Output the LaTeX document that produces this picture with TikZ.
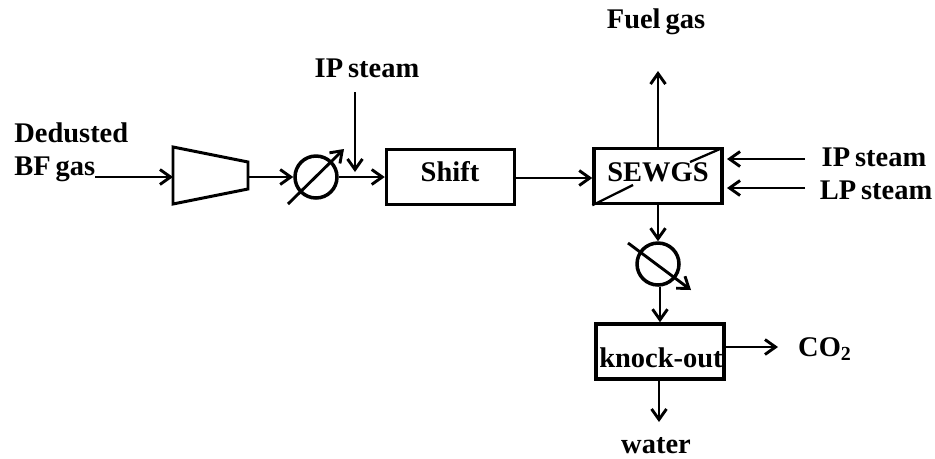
\documentclass[tikz,border=0pt]{standalone}
\usepackage{fontspec}
\setmainfont[WordSpace=0.7]{Liberation Serif}
\usepackage{tikz}
\usetikzlibrary{arrows.meta}

\tikzset{
    pipe/.style={line width=1.65pt},
    unitbox/.style={draw, line width=2pt, minimum width=2.56cm, minimum height=1.1cm},
    heater/.style={draw, circle, line width=2pt, minimum size=0.84cm, inner sep=0pt},
    streamlabel/.style={font=\fontsize{16.2}{18}\bfseries\selectfont, inner sep=0pt}
}

\begin{document}
\begin{tikzpicture}[x=0.02cm, y=-0.02cm, >={Straight Barb[length=6pt,width=8.5pt]}]

        \useasboundingbox (0,0) rectangle (935,458);

        % Draw units
        \node[unitbox] (shift) at (450.5,177) {};
        \node[unitbox] (sewgs) at (658,176) {};
        \node[unitbox] (knockout) at (660,351.5) {};
        \node[heater] (heaterA) at (316,177) {};
        \node[heater] (heaterB) at (658,264) {};

        % Draw compressor
        \draw[line width=1.7pt, line join=miter] (173,147) -- (248,162) -- (248,189) -- (173,204) -- cycle;
        \coordinate (compin) at (173,177);
        \coordinate (compout) at (248,177);

        % Draw unit labels
        \node[streamlabel] (shiftlabel) at (450,172) {Shift};
        \node[streamlabel] (sewgslabel) at (658,172) {SEWGS};
        \node[streamlabel] (knocklabel) at (661,358) {knock-out};

        % Draw stream labels
        \node[streamlabel, align=left, anchor=west] (feedlabel) at (14,152) {Dedusted\\[1pt]BF gas};
        \node[streamlabel] (ipAlabel) at (367,68) {IP steam};
        \node[streamlabel] (fuellabel) at (656,22) {Fuel gas};
        \node[streamlabel] (ipBlabel) at (874,157) {IP steam};
        \node[streamlabel] (lplabel) at (876,190) {LP steam};
        \node[streamlabel] (co2label) at (825,349) {CO$_\mathbf{2}$};
        \node[streamlabel] (waterlabel) at (656,446) {water};

        % Free ends of the streams
        \coordinate (feed) at (95,177);
        \coordinate (ipAstart) at (355,92);
        \coordinate (ipAend) at (355,172);
        \coordinate (fuelend) at (658,71);
        \coordinate (ipBstart) at (805,159);
        \coordinate (ipBend) at (727,159);
        \coordinate (lpstart) at (805,188);
        \coordinate (lpend) at (727,188);
        \coordinate (co2end) at (778,347);
        \coordinate (waterend) at (659,422);

        % Draw main line
        \draw[pipe, ->] (feed) -- (compin);
        \draw[pipe, ->] (compout) -- (heaterA);
        \draw[pipe, ->] (heaterA) -- (shift);
        \draw[pipe, ->] (shift.east |- 0,178) -- (sewgs.west |- 0,178);
        \draw[pipe, ->] (sewgs) -- (heaterB);
        \draw[pipe, ->] (heaterB.south -| knockout) -- (knockout);

        % Draw side streams
        \draw[pipe, ->] (ipAstart) -- (ipAend);
        \draw[pipe, ->] (sewgs.north) -- (fuelend);
        \draw[pipe, ->] (ipBstart) -- (ipBend);
        \draw[pipe, ->] (lpstart) -- (lpend);
        \draw[pipe, ->] (knockout.east |- co2end) -- (co2end);
        \draw[pipe, ->] (knockout.south -| waterend) -- (waterend);

        % Draw heat exchanger arrows
        \draw[pipe, ->] (288,204) -- (344,149);
        \draw[pipe, ->] (628,243) -- (691,290);

        % Draw membrane lines
        \draw[line width=1.3pt] (sewgs.south west) -- (633,185);
        \draw[line width=1.3pt] (690,162) -- (720,149);

    \end{tikzpicture}
\end{document}
